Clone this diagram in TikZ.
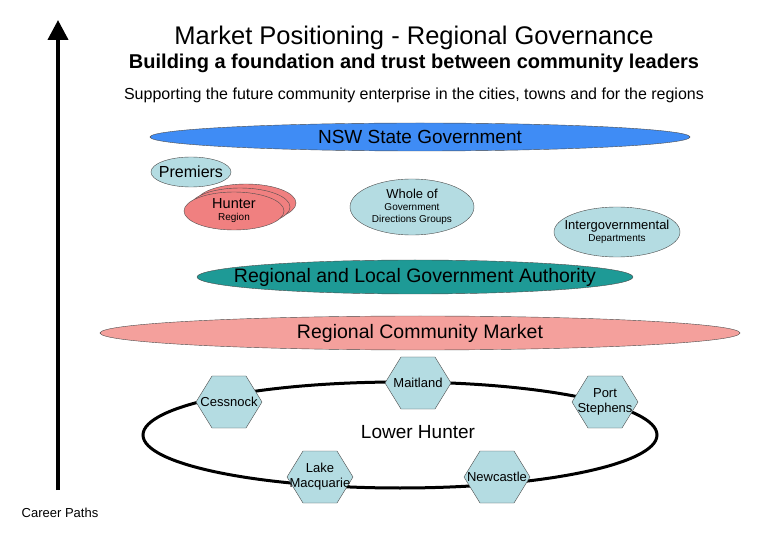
\documentclass[tikz,border=0pt]{standalone}
\usetikzlibrary{shapes.geometric,arrows.meta,calc}
\usepackage{fontspec}
\setmainfont{Liberation Sans}
\definecolor{nswblue}{HTML}{3F8CF5}
\definecolor{teal2}{HTML}{1E9A96}
\definecolor{lblue}{HTML}{B4DCE2}
\definecolor{pinkc}{HTML}{F4A09C}
\definecolor{pinkh}{HTML}{F08080}
\newcommand\myhex[3]{%
  \draw[draw=black!70,fill=lblue] ($(#2)+(-33,0)$) -- ($(#2)+(-17,-26)$) -- ($(#2)+(17,-26)$) -- ($(#2)+(33,0)$) -- ($(#2)+(17,26)$) -- ($(#2)+(-17,26)$) -- cycle;
  \node[small] (#1) at (#2) {#3};}
\newcommand\myell[6]{% name, pos, rx, ry, fill, text-style+text
  \draw[draw=black!70,fill=#5] (#2) ellipse [x radius=#3, y radius=#4];
  \node[align=center,inner sep=0pt] (#1) at (#2) {#6};}
\begin{document}
\begin{tikzpicture}[x=1pt,y=-1pt,
  small/.style={font=\fontsize{13}{15}\selectfont,align=center}]
\useasboundingbox (0,0) rectangle (780,540);
\coordinate (abot) at (58,490);
\coordinate (atop) at (58,20);
\draw[line width=4pt,-{Triangle[length=20pt,width=20pt]}] (abot) -- (atop);
\node (t1) at (414,38) {\fontsize{25.5}{30}\selectfont Market Positioning - Regional Governance};
\node (t2) at (414,63) {\fontsize{20}{23}\selectfont\bfseries Building a foundation and trust between community leaders};
\node (t3) at (414,95) {\fontsize{16}{19}\selectfont Supporting the future community enterprise in the cities, towns and for the regions};
\myell{nsw}{420,137}{270}{14}{nswblue}{\fontsize{19}{22}\selectfont NSW State Government}
\myell{prem}{191,172}{40}{15}{lblue}{\fontsize{16}{18}\selectfont Premiers}
\myell{h3}{246,203}{50}{19}{pinkh}{}
\myell{h2}{240,207}{50}{19}{pinkh}{}
\myell{hr}{234,211}{50}{19}{pinkh}{\fontsize{14.5}{16}\selectfont Hunter\\Region}
\myell{whole}{412,207}{62}{28}{lblue}{\fontsize{13}{15}\selectfont Whole of\\Government\\Directions Groups}
\myell{inter}{617,232}{63}{25}{lblue}{\fontsize{13}{15}\selectfont Intergovernmental\\Departments}
\myell{rlg}{415,277}{218}{17}{teal2}{\fontsize{19.5}{22}\selectfont Regional and Local Government Authority}
\myell{rcm}{420,333}{320}{17}{pinkc}{\fontsize{19.5}{22}\selectfont Regional Community Market}
\draw[line width=3pt] (400,435) ellipse [x radius=257, y radius=53];
\node (lh) at (418,432) {\fontsize{19}{22}\selectfont Lower Hunter};
\myhex{mai}{418,383}{Maitland}
\myhex{ces}{229,402}{Cessnock}
\myhex{ps}{605,402}{Port\\Stephens}
\myhex{lm}{320,477}{Lake\\Macquarie}
\myhex{nc}{497,477}{Newcastle}
\node[small] (cp) at (60,513) {Career Paths};
\end{tikzpicture}
\end{document}
